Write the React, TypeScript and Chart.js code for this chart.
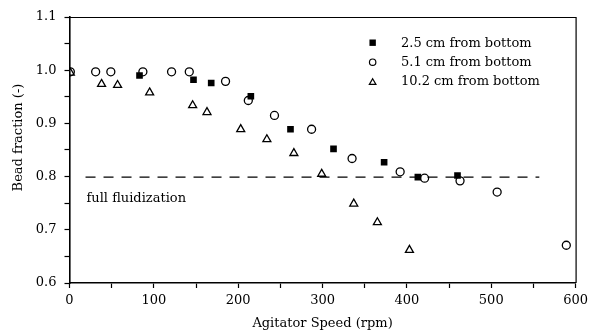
import React, { useEffect, useRef } from "react";
import { Chart, registerables } from "chart.js";

Chart.register(...registerables);

// ---- data ----
const speed25 = [83, 147, 168, 215, 262, 313, 373, 413, 460];
const frac25 = [0.990, 0.982, 0.976, 0.951, 0.889, 0.852, 0.827, 0.799, 0.802];

const speed51 = [1, 31, 49, 87, 121, 142, 185, 212, 243, 287, 335, 392, 421, 463, 507, 589];
const frac51 = [0.997, 0.997, 0.997, 0.997, 0.997, 0.997, 0.979, 0.943, 0.915, 0.889, 0.834, 0.809, 0.797, 0.792, 0.771, 0.671];

const speed102 = [1, 38, 57, 95, 146, 163, 203, 234, 266, 299, 337, 365, 403];
const frac102 = [0.995, 0.974, 0.972, 0.958, 0.934, 0.921, 0.889, 0.870, 0.844, 0.805, 0.749, 0.714, 0.662];

const fluidSpeed = [19, 557];
const fluidFrac = [0.799, 0.799];
const fluidLabel = "full fluidization";

const seriesLabels = ["2.5 cm from bottom", "5.1 cm from bottom", "10.2 cm from bottom"];
const xTitle = "Agitator Speed (rpm)";
const yTitle = "Bead fraction (-)";

const FONT_FAMILY = "'DejaVu Serif', serif";

const toPts = (xs: number[], ys: number[]) => xs.map((x, i) => ({ x, y: ys[i] }));

export default function App() {
  const ref = useRef<HTMLCanvasElement>(null);

  useEffect(() => {
    document.body.style.margin = "0";
    const canvas = ref.current!;

    const overlay = {
      id: "overlay",
      afterDraw(chart: any) {
        const { ctx, chartArea, scales } = chart;
        ctx.save();
        // top & right frame
        ctx.strokeStyle = "#000";
        ctx.lineWidth = 1.2;
        ctx.beginPath();
        ctx.moveTo(chartArea.left, chartArea.top + 0.5);
        ctx.lineTo(chartArea.right + 0.5, chartArea.top + 0.5);
        ctx.lineTo(chartArea.right + 0.5, chartArea.bottom);
        ctx.stroke();

        // y axis title (rotated)
        ctx.fillStyle = "#000";
        ctx.font = `13px ${FONT_FAMILY}`;
        ctx.save();
        ctx.translate(19, 137.5);
        ctx.rotate(-Math.PI / 2);
        ctx.textAlign = "center";
        ctx.textBaseline = "middle";
        ctx.fillText(yTitle, 0, 0);
        ctx.restore();

        // annotation label
        ctx.textBaseline = "alphabetic";
        ctx.textAlign = "left";
        ctx.fillText(fluidLabel, scales.x.getPixelForValue(fluidSpeed[0]) + 1, scales.y.getPixelForValue(0.753));

        // legend
        const lx = chartArea.left + (chartArea.right - chartArea.left) * 0.599;
        const tx = chartArea.left + (chartArea.right - chartArea.left) * 0.655;
        const rowY = [42.7, 61.7, 81.5];
        ctx.textBaseline = "middle";
        seriesLabels.forEach((lab, i) => {
          const y = rowY[i];
          ctx.strokeStyle = "#000";
          ctx.lineWidth = 1.2;
          ctx.beginPath();
          if (i === 0) {
            ctx.fillStyle = "#000";
            ctx.fillRect(lx - 3.2, y - 3.2, 6.4, 6.4);
          } else if (i === 1) {
            ctx.fillStyle = "#fff";
            ctx.arc(lx, y + 0.5, 3.2, 0, Math.PI * 2);
            ctx.fill();
            ctx.stroke();
          } else {
            const r = 3.8;
            ctx.fillStyle = "#fff";
            ctx.moveTo(lx, y - r + 1);
            ctx.lineTo(lx + r * 0.866, y + r * 0.5 + 1);
            ctx.lineTo(lx - r * 0.866, y + r * 0.5 + 1);
            ctx.closePath();
            ctx.fill();
            ctx.stroke();
          }
          ctx.fillStyle = "#000";
          ctx.fillText(lab, tx, y + 0.5);
        });
        ctx.restore();
      },
    };

    const chart = new Chart(canvas, {
      type: "scatter",
      data: {
        datasets: [
          {
            label: "full fluidization line",
            data: toPts(fluidSpeed, fluidFrac),
            showLine: true,
            borderColor: "#000",
            borderWidth: 1.1,
            borderDash: [10, 8],
            pointRadius: 0,
            order: 10,
          },
          {
            label: seriesLabels[0],
            data: toPts(speed25, frac25),
            pointStyle: "rect",
            pointRadius: 4.7,
            backgroundColor: "#000",
            borderColor: "#000",
            borderWidth: 0,
            showLine: false,
            order: 3,
          },
          {
            label: seriesLabels[1],
            data: toPts(speed51, frac51),
            pointStyle: "circle",
            pointRadius: 4,
            backgroundColor: "rgba(255,255,255,0)",
            borderColor: "#000",
            borderWidth: 1.3,
            showLine: false,
            order: 2,
          },
          {
            label: seriesLabels[2],
            data: toPts(speed102, frac102),
            pointStyle: "triangle",
            pointRadius: 4.6,
            backgroundColor: "rgba(255,255,255,0)",
            borderColor: "#000",
            borderWidth: 1.3,
            showLine: false,
            order: 1,
          },
        ],
      },
      options: {
        animation: false,
        responsive: false,
        maintainAspectRatio: false,
        layout: { padding: { top: 17, right: 17, left: 0, bottom: 0 } },
        plugins: { legend: { display: false }, tooltip: { enabled: false } },
        scales: {
          x: {
            type: "linear",
            min: 0,
            max: 600,
            ticks: {
              stepSize: 50,
              autoSkip: false,
              maxRotation: 0,
              color: "#000",
              padding: 5,
              font: { family: FONT_FAMILY, size: 13 },
              callback: (v: any) => (Math.round(v) % 100 === 0 ? String(Math.round(v)) : ""),
            },
            grid: { drawOnChartArea: false, drawTicks: true, tickLength: 5, tickColor: "#000", tickWidth: 1.2 },
            border: { display: true, color: "#000", width: 1.6 },
            title: {
              display: true,
              text: xTitle,
              color: "#000",
              font: { family: FONT_FAMILY, size: 13 },
              padding: { top: 0, bottom: 4 },
            },
            afterFit: (s: any) => {
              s.height = 52;
            },
          },
          y: {
            type: "linear",
            min: 0.6,
            max: 1.1,
            ticks: {
              stepSize: 0.05,
              autoSkip: false,
              color: "#000",
              padding: 8,
              font: { family: FONT_FAMILY, size: 13 },
              callback: (v: any) => {
                const k = Math.round(v * 100);
                return k % 10 === 0 ? (k / 100).toFixed(1) : "";
              },
            },
            grid: { drawOnChartArea: false, drawTicks: true, tickLength: 5, tickColor: "#000", tickWidth: 1.2 },
            border: { display: true, color: "#000", width: 1.6 },
            title: { display: false },
            afterFit: (s: any) => {
              s.width = 69.5;
            },
          },
        },
      },
      plugins: [overlay],
    } as any);

    return () => chart.destroy();
  }, []);

  return (
    <div style={{ width: 593, height: 335 }}>
      <canvas ref={ref} width={593} height={335} />
    </div>
  );
}
